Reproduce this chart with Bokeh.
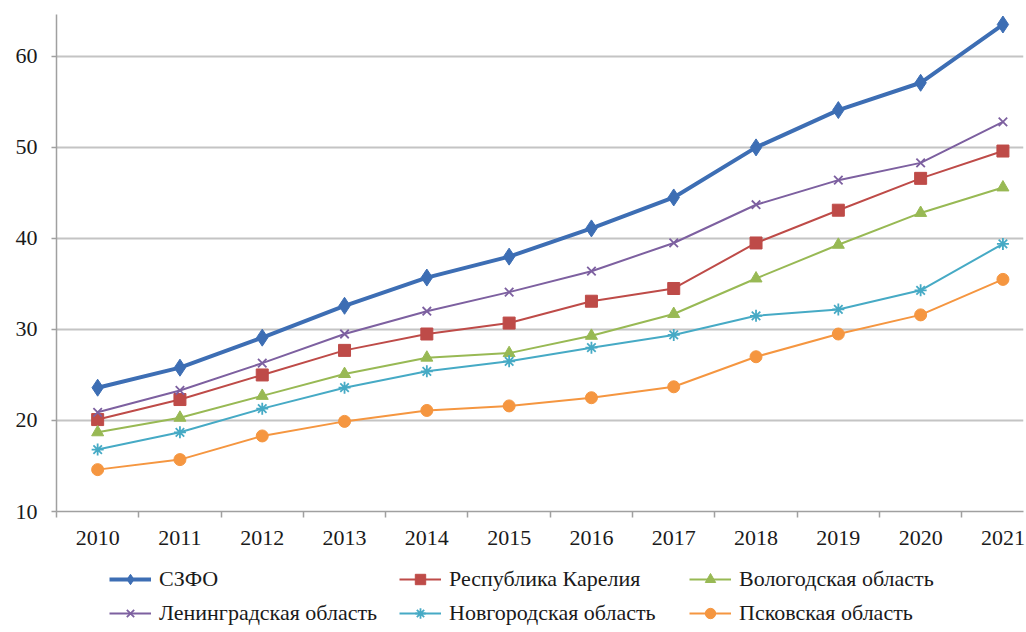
from bokeh.plotting import figure
from bokeh.models import (Range1d, FixedTicker, Legend, LegendItem)
from bokeh.layouts import column
from bokeh.embed import file_html
from bokeh.resources import INLINE

years = [2010, 2011, 2012, 2013, 2014, 2015, 2016, 2017, 2018, 2019, 2020, 2021]
szfo = [23.6, 25.8, 29.1, 32.6, 35.7, 38.0, 41.1, 44.5, 50.0, 54.1, 57.1, 63.5]
karelia = [20.1, 22.3, 25.0, 27.7, 29.5, 30.7, 33.1, 34.5, 39.5, 43.1, 46.6, 49.6]
vologda = [18.7, 20.3, 22.7, 25.1, 26.9, 27.4, 29.3, 31.7, 35.6, 39.3, 42.8, 45.6]
leningrad = [20.9, 23.3, 26.3, 29.5, 32.0, 34.1, 36.4, 39.5, 43.7, 46.4, 48.3, 52.8]
novgorod = [16.8, 18.7, 21.3, 23.6, 25.4, 26.5, 28.0, 29.4, 31.5, 32.2, 34.3, 39.4]
pskov = [14.6, 15.7, 18.3, 19.9, 21.1, 21.6, 22.5, 23.7, 27.0, 29.5, 31.6, 35.5]

names = ["СЗФО", "Республика Карелия", "Вологодская область",
         "Ленинградская область", "Новгородская область", "Псковская область"]
series = [szfo, karelia, vologda, leningrad, novgorod, pskov]
colors = ["#3D6EB4", "#BE4B48", "#98B954", "#7D60A0", "#46AAC5", "#F59640"]
markers = ["diamond", "square", "triangle", "x", "asterisk", "circle"]
y_ticks = [10, 20, 30, 40, 50, 60]

FONT = "Liberation Serif"

p = figure(width=1026, height=556, output_backend="svg", toolbar_location=None,
           x_range=Range1d(2009.5, 2021.25), y_range=Range1d(10, 64.6),
           min_border_left=56, min_border_right=3, min_border_top=14,
           min_border_bottom=45)
p.outline_line_color = None
p.background_fill_color = "white"

# axes
p.xaxis.ticker = FixedTicker(ticks=years, minor_ticks=[y - 0.5 for y in years])
p.xaxis.major_tick_line_color = None
p.xaxis.minor_tick_in = 0
p.xaxis.minor_tick_out = 6
p.xaxis.minor_tick_line_color = "#a0a0a0"
p.xaxis.minor_tick_line_width = 1.5
p.xaxis.axis_line_color = "#a0a0a0"
p.xaxis.axis_line_width = 1.5
p.xaxis.major_label_text_font = FONT
p.xaxis.major_label_text_font_size = "22px"
p.xaxis.major_label_text_color = "#1a1a1a"
p.xaxis.major_label_standoff = 13

p.yaxis.ticker = FixedTicker(ticks=y_ticks)
p.yaxis.minor_tick_line_color = None
p.yaxis.major_tick_in = 0
p.yaxis.major_tick_out = 5
p.yaxis.major_tick_line_color = "#a0a0a0"
p.yaxis.major_tick_line_width = 1.5
p.yaxis.axis_line_color = "#a0a0a0"
p.yaxis.axis_line_width = 1.5
p.yaxis.major_label_text_font = FONT
p.yaxis.major_label_text_font_size = "22px"
p.yaxis.major_label_text_color = "#1a1a1a"
p.yaxis.major_label_standoff = 14

p.xgrid.grid_line_color = None
p.ygrid.ticker = FixedTicker(ticks=y_ticks)
p.ygrid.grid_line_color = "#c4c4c4"
p.ygrid.grid_line_width = 2

# legend figure (its copies of the series lie outside its visible range)
lf = figure(width=1026, height=76, output_backend="svg", toolbar_location=None,
            x_range=Range1d(0, 1), y_range=Range1d(0, 1),
            min_border_left=0, min_border_right=0, min_border_top=0,
            min_border_bottom=0, x_axis_type=None, y_axis_type=None)
lf.outline_line_color = None
lf.xgrid.visible = False
lf.ygrid.visible = False


def draw(fig, i, vals, c, m):
    lw = 4 if i == 0 else 2
    size = 17 if i == 0 else 12
    r1 = fig.line(years, vals, line_color=c, line_width=lw)
    if m in ("x", "asterisk"):
        r2 = fig.scatter(years, vals, marker=m, size=size, line_color=c, line_width=1.8)
    else:
        r2 = fig.scatter(years, vals, marker=m, size=size, fill_color=c,
                         line_color=c, line_width=1)
    return r1, r2


items = []
for i, (name, vals, c, m) in enumerate(zip(names, series, colors, markers)):
    draw(p, i, vals, c, m)
    r1, r2 = draw(lf, i, vals, c, m)
    items.append(LegendItem(label=name, renderers=[r1, r2]))

legend = Legend(items=items, orientation="horizontal", ncols=3,
                location=(53, 6),
                label_text_font=FONT, label_text_font_size="22px",
                label_text_color="#1a1a1a", glyph_width=42, glyph_height=26,
                label_standoff=8, label_width=232, label_height=26, spacing=8,
                padding=0, margin=0, border_line_color=None,
                background_fill_alpha=0)
lf.add_layout(legend)

layout = column(p, lf, spacing=0)
open("out.html", "w").write(file_html(layout, INLINE))
